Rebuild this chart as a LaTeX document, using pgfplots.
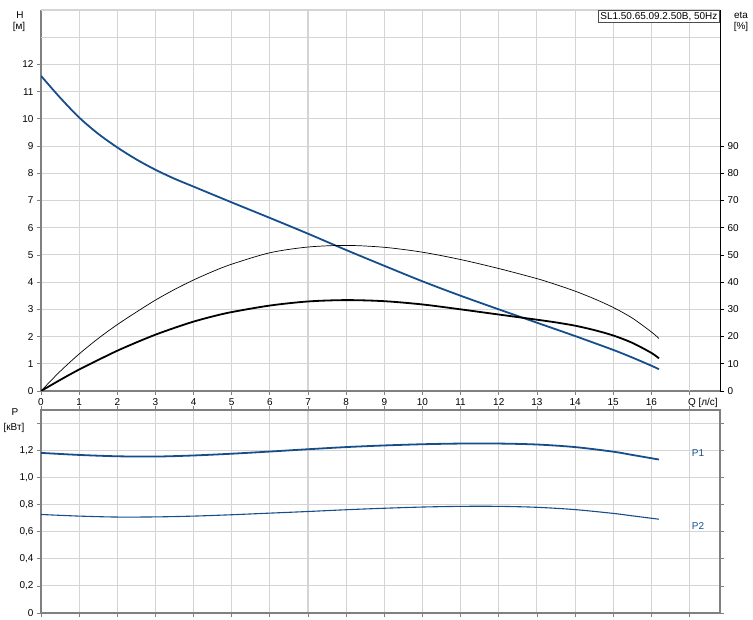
\documentclass[border=0pt]{standalone}
\usepackage{fontspec}
\setmainfont{Liberation Sans}
\usepackage{pgfplots}
\pgfplotsset{compat=1.18}
\definecolor{hblue}{RGB}{22,78,140}
\definecolor{gridc}{RGB}{212,212,212}
\definecolor{axc}{RGB}{128,128,128}
\begin{document}
\fontsize{10}{12}\selectfont
\begin{tikzpicture}
\useasboundingbox (0,0) rectangle (753bp,620bp);
\pgfplotsset{
  base/.style={scale only axis, width=679bp, xmin=0, xmax=17.8,
    grid=major, major grid style={gridc, line width=1.1bp},
    tick align=outside, major tick length=4bp,
    tick style={axc, line width=0.8bp},
    /pgf/number format/assume math mode=true,
    tick label style={font=\fontsize{10}{12}\selectfont},
  },
}
% ---------- top: H ----------
\begin{axis}[base, at={(41bp,229bp)}, anchor=south west, height=381bp,
  ymin=0, ymax=14,
  xtick={0,...,16}, ytick={0,...,12},
  extra y ticks={13,14}, extra y tick labels={},
  extra y tick style={grid=major, major tick length=0pt},
  extra x ticks={17}, extra x tick labels={Q [л/с]},
  extra x tick style={grid=major, tick label style={anchor=north west, xshift=-5bp}},
  axis x line*=bottom, axis y line*=left,
  axis line style={axc, line width=1.6bp, -},
]
\addplot[hblue, line width=1.8bp, smooth, tension=0.5] coordinates {
(0,11.58) (0.5,10.78) (1,10.05) (1.5,9.45) (2,8.95) (2.5,8.51) (3,8.13) (3.5,7.8)
(4,7.51) (5,6.93) (6,6.36)
(7,5.78) (8,5.18) (9,4.6) (10,4.03) (11,3.5) (12,3.0) (13,2.51) (14,2.02)
(15,1.51) (15.5,1.23) (16,0.93) (16.2,0.8)};
\end{axis}
% ---------- top: eta ----------
\begin{axis}[base, at={(41bp,229bp)}, anchor=south west, height=381bp,
  ymin=0, ymax=140, grid=none,
  axis y line*=right, axis x line=none,
  ytick={0,10,...,90},
  tick style={black, line width=0.8bp},
  axis line style={black, line width=1bp, -},
]
\addplot[black, line width=0.7bp, smooth, tension=0.5] coordinates {
(0,0) (0.5,7.2) (1,13.6) (1.5,19.3) (2,24.4) (2.5,29.0) (3,33.4) (3.5,37.3) (4,40.8)
(4.5,43.9) (5,46.6) (6,50.8) (7,52.9)
(8,53.5) (9,52.8) (10,51) (11,48.3) (12,45) (13,41.3) (13.5,39.1) (14,36.7) (14.5,33.9)
(15,30.7) (15.5,26.8) (16,21.7) (16.2,19.3)};
\addplot[black, line width=1.8bp, smooth, tension=0.5] coordinates {
(0,0) (0.5,4.05) (1,7.9) (1.5,11.4) (2,14.8) (2.5,17.85) (3,20.7) (3.5,23.2) (4,25.5)
(4.5,27.4) (5,29.0) (6,31.4) (7,32.9)
(8,33.4) (9,33) (10,31.8) (11,30) (12,28.1) (13,26.2) (13.5,25.2) (14,24.0) (14.5,22.4)
(15,20.4) (15.5,17.7) (16,14.0) (16.2,12.0)};
\end{axis}
% ---------- bottom: P ----------
\begin{axis}[base, at={(41bp,7bp)}, anchor=south west, height=203bp,
  ymin=0, ymax=1.5,
  xtick={0,...,17}, xticklabels={},
  ytick={0,0.2,0.4,0.6,0.8,1.0,1.2,1.4},
  yticklabels={0,{0,2},{0,4},{0,6},{0,8},{1,0},{1,2},{}},
  axis line style={axc, line width=1.6bp},
]
\addplot[hblue, line width=1.8bp, smooth] coordinates {
(0,1.183) (1,1.168) (2,1.158) (3,1.156) (4,1.164) (5,1.177) (6,1.193) (7,1.21)
(8,1.226) (9,1.238) (10,1.247) (11,1.252) (12,1.252) (13,1.245) (14,1.226)
(15,1.192) (15.5,1.168) (16.2,1.134)};
\addplot[hblue, line width=1.1bp, smooth] coordinates {
(0,0.728) (1,0.716) (2,0.709) (3,0.71) (4,0.716) (5,0.726) (6,0.738) (7,0.75)
(8,0.763) (9,0.774) (10,0.783) (11,0.788) (12,0.788) (13,0.781) (14,0.764)
(15,0.736) (15.5,0.718) (16.2,0.693)};
\end{axis}
% ---------- labels ----------
\node at (20bp,605bp) {H};
\node at (19bp,593bp) {[м]};
\node at (741bp,605bp) {eta};
\node at (741bp,593bp) {[\%]};
\node at (15bp,208bp) {P};
\node at (14bp,192bp) {[кВт]};
\node[text=hblue] at (698bp,167bp) {P1};
\node[text=hblue] at (698bp,94bp) {P2};
\node[draw=black!70, fill=white, anchor=north east, inner sep=2bp] at (719.5bp,610bp) {SL1.50.65.09.2.50B, 50Hz};
\end{tikzpicture}
\end{document}
